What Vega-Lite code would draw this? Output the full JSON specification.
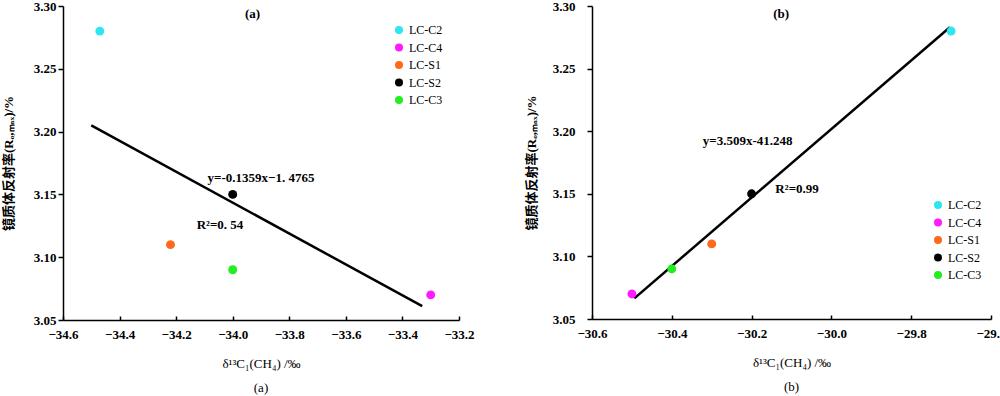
{
  "$schema": "https://vega.github.io/schema/vega-lite/v6.json",
  "padding": {"left": 2, "top": 0, "right": 0, "bottom": 0},
  "background": "white",
  "datasets": {
    "ptsA": [
      {"d13C": -34.47, "Ro": 3.28, "sample": "LC-C2"},
      {"d13C": -33.3, "Ro": 3.07, "sample": "LC-C4"},
      {"d13C": -34.22, "Ro": 3.11, "sample": "LC-S1"},
      {"d13C": -34.0, "Ro": 3.15, "sample": "LC-S2"},
      {"d13C": -34.0, "Ro": 3.09, "sample": "LC-C3"}
    ],
    "lineA": [
      {"d13C": -34.5, "Ro": 3.205},
      {"d13C": -33.33, "Ro": 3.061}
    ],
    "textA": [
      {"d13C": -33.93, "Ro": 3.294, "label": "(a)"},
      {"d13C": -33.9, "Ro": 3.163, "label": "y=-0.1359x−1. 4765"},
      {"d13C": -34.045, "Ro": 3.126, "label": "R²=0. 54"}
    ],
    "ptsB": [
      {"d13C": -29.7, "Ro": 3.28, "sample": "LC-C2"},
      {"d13C": -30.5, "Ro": 3.07, "sample": "LC-C4"},
      {"d13C": -30.3, "Ro": 3.11, "sample": "LC-S1"},
      {"d13C": -30.2, "Ro": 3.15, "sample": "LC-S2"},
      {"d13C": -30.4, "Ro": 3.09, "sample": "LC-C3"}
    ],
    "lineB": [
      {"d13C": -30.494, "Ro": 3.0665},
      {"d13C": -29.703, "Ro": 3.283}
    ],
    "textB": [
      {"d13C": -30.126, "Ro": 3.294, "label": "(b)"},
      {"d13C": -30.21, "Ro": 3.192, "label": "y=3.509x-41.248"},
      {"d13C": -30.086, "Ro": 3.154, "label": "R²=0.99"}
    ]
  },
  "config": {
    "view": {"stroke": null},
    "font": "Liberation Serif",
    "axis": {
      "grid": false,
      "domainColor": "black",
      "domainWidth": 1.5,
      "tickColor": "black",
      "tickWidth": 1.5,
      "labelFont": "Liberation Serif",
      "labelFontWeight": "bold",
      "labelFontSize": 13,
      "labelColor": "black",
      "labelFlush": false,
      "labelOverlap": false,
      "titleColor": "black",
      "titleFont": "Liberation Serif, Noto Sans CJK SC",
      "titleFontSize": 13
    },
    "legend": {
      "labelFont": "Liberation Serif",
      "labelFontSize": 12,
      "labelColor": "black",
      "symbolType": "circle",
      "symbolSize": 64,
      "symbolStrokeWidth": 0,
      "rowPadding": 5.5
    },
    "title": {"font": "Liberation Serif", "fontSize": 13, "fontWeight": "normal", "color": "black"}
  },
  "resolve": {"scale": {"color": "independent"}, "legend": {"color": "independent"}},
  "spacing": 50,
  "hconcat": [
    {
      "width": 396,
      "height": 314,
      "title": {"text": "(a)", "orient": "bottom", "offset": 12},
      "encoding": {
        "x": {"field": "d13C", "type": "quantitative",
          "scale": {"domain": [-34.6, -33.2], "nice": false, "zero": false},
          "axis": {"values": [-34.6, -34.4, -34.2, -34.0, -33.8, -33.6, -33.4, -33.2], "format": ".1f",
            "tickSize": -4, "labelPadding": 12, "title": "δ¹³C₁(CH₄) /‰", "titleFontWeight": "normal", "titlePadding": 16}},
        "y": {"field": "Ro", "type": "quantitative",
          "scale": {"domain": [3.05, 3.3], "nice": false, "zero": false},
          "axis": {"values": [3.05, 3.1, 3.15, 3.2, 3.25, 3.3], "format": ".2f", "tickSize": 5, "labelPadding": 2,
            "title": "镜质体反射率(Rₒ,ₘₐₓ)/%", "titleFontWeight": "bold", "titlePadding": 18}}
      },
      "layer": [
        {"data": {"name": "lineA"}, "mark": {"type": "line", "color": "black", "strokeWidth": 2.5}},
        {"data": {"name": "ptsA"}, "mark": {"type": "point", "filled": true, "size": 80, "opacity": 1},
          "encoding": {"color": {"field": "sample", "type": "nominal",
            "scale": {"domain": ["LC-C2", "LC-C4", "LC-S1", "LC-S2", "LC-C3"], "range": ["#2ee6f0", "#ff1aff", "#ff6a1a", "#000000", "#22ee22"]},
            "legend": {"title": null, "orient": "none", "legendX": 330, "legendY": 18}}}},
        {"data": {"name": "textA"}, "mark": {"type": "text", "fontWeight": "bold", "fontSize": 13, "color": "black", "font": "Liberation Serif"},
          "encoding": {"text": {"field": "label"}}}
      ]
    },
    {
      "width": 399,
      "height": 313,
      "title": {"text": "(b)", "orient": "bottom", "offset": 12},
      "encoding": {
        "x": {"field": "d13C", "type": "quantitative",
          "scale": {"domain": [-30.6, -29.6], "nice": false, "zero": false},
          "axis": {"values": [-30.6, -30.4, -30.2, -30.0, -29.8, -29.6], "format": ".1f",
            "tickSize": -4, "labelPadding": 12, "title": "δ¹³C₁(CH₄) /‰", "titleFontWeight": "normal", "titlePadding": 16}},
        "y": {"field": "Ro", "type": "quantitative",
          "scale": {"domain": [3.05, 3.3], "nice": false, "zero": false},
          "axis": {"values": [3.05, 3.1, 3.15, 3.2, 3.25, 3.3], "format": ".2f", "tickSize": 5, "labelPadding": 12,
            "title": "镜质体反射率(Rₒ,ₘₐₓ)/%", "titleFontWeight": "bold", "titlePadding": 14}}
      },
      "layer": [
        {"data": {"name": "lineB"}, "mark": {"type": "line", "color": "black", "strokeWidth": 2.5}},
        {"data": {"name": "ptsB"}, "mark": {"type": "point", "filled": true, "size": 80, "opacity": 1},
          "encoding": {"color": {"field": "sample", "type": "nominal",
            "scale": {"domain": ["LC-C2", "LC-C4", "LC-S1", "LC-S2", "LC-C3"], "range": ["#2ee6f0", "#ff1aff", "#ff6a1a", "#000000", "#22ee22"]},
            "legend": {"title": null, "orient": "none", "legendX": 340, "legendY": 193}}}},
        {"data": {"name": "textB"}, "mark": {"type": "text", "fontWeight": "bold", "fontSize": 13, "color": "black", "font": "Liberation Serif"},
          "encoding": {"text": {"field": "label"}}}
      ]
    }
  ]
}
